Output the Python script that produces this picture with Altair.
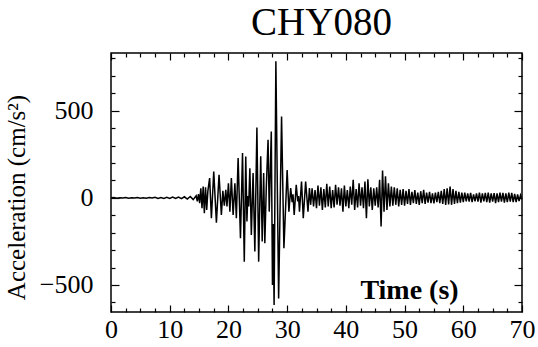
import altair as alt
import pandas as pd

SERIF = "Liberation Serif"
STATION = "CHY080"

# ---- record: acceleration (cm/s^2) versus time (s) ----
# Pre-event noise, sampled every PRE_DT seconds from 0 s
PRE_DT = 0.5
pre_acc = [0, 2, -2, 1, -1, 2, -2, 1, -1, 2,
           -2, 1, -2, 2, -1, 3, -3, 2, -3, 3,
           -3, 4, -4, 4, -5, 6, -7, 8, -10, 12]

# Strong-motion window: turning points of the trace
strong_t = [14.7, 14.9, 15.1, 15.3, 15.5, 15.7, 15.9, 16.1, 16.3, 16.5,
            16.8, 17.1, 17.5, 17.95, 18.4, 18.8, 19.05, 19.3, 19.55, 19.75,
            20.0, 20.25, 20.5, 20.8, 21.1, 21.35, 21.65, 22.05, 22.4, 22.7,
            22.95, 23.15, 23.3, 23.45, 23.65, 23.9, 24.2, 24.5, 24.85, 25.15,
            25.5, 25.75, 26.0, 26.2, 26.45, 26.75, 26.95, 27.3, 27.5, 27.62,
            27.78, 28.08, 28.55, 29.05, 29.45, 30.0, 30.3, 30.6, 30.85, 31.0,
            31.2, 31.55, 31.8, 31.95, 32.1, 32.45, 32.75, 33.15, 33.55, 33.8]
strong_acc = [-20, 22, -30, 55, -60, 65, -88, 60, -70, 40,
              113, -117, 151, -142, 132, -98, 40, -45, 46, -50,
              84, -79, 113, -98, 84, -117, 228, -232, 257, -366,
              237, -136, 10, -50, 170, -213, 142, -308, 404, -366,
              238, -251, 142, -260, 60, 333, -79, 381, -500, -150,
              -615, 783, -577, 467, -289, 160, -79, 56, -25, 20,
              -98, 75, -20, 10, -79, 94, -117, 94, -79, 56]

# Coda, sampled every CODA_DT seconds from CODA_T0
CODA_T0 = 34.0
CODA_DT = 0.25
coda_acc = [-40, 55, -50, 45,   -60, 70, -45, 60,   -69, 50, -55, 80,
            -50, 65, -60, 45,   -55, 75, -40, 60,   -45, 55, -79, 70,
            -50, 45, -60, 65,   -40, 103, -70, 50,  -55, 84, -45, 60,
            -60, 94, -117, 107, -50, 60, -70, 55,   -45, 60, -55, 103,
            -165, 157, -79, 123, -69, 84, -50, 65,  -45, 60, -40, 55,
            -50, 46, -40, 50,   -45, 40, -35, 50,   -40, 35, -30, 45,
            -35, 30, -40, 38,   -30, 46, -35, 30,   -28, 35, -30, 25,
            -32, 30, -25, 35,   -30, 40, -35, 50,   -40, 55, -38, 65,
            -40, 50, -35, 40,   -30, 35, -28, 30,   -25, 30, -20, 25,
            -22, 28, -25, 20,   -20, 25, -22, 30,   -28, 25, -20, 28,
            -25, 30, -28, 25,   -22, 27, -30, 25,   -25, 30, -22, 28,
            -28, 25, -25, 30,   -22, 28, -25, 22,   -25, 20, -18, 15,
            -10]

# ---- axes ----
X_DOMAIN = [0, 70]
Y_DOMAIN = [-655, 831]
x_label_values = [0, 10, 20, 30, 40, 50, 60, 70]
y_label_values = [-500, 0, 500]
x_tick_values = [0, 2.5, 5, 7.5, 10, 12.5, 15, 17.5, 20, 22.5, 25, 27.5,
                 30, 32.5, 35, 37.5, 40, 42.5, 45, 47.5, 50, 52.5, 55,
                 57.5, 60, 62.5, 65, 67.5, 70]
y_tick_values = [-600, -500, -400, -300, -200, -100, 0, 100, 200, 300,
                 400, 500, 600, 700, 800]

W, H = 411, 259

pre_t = [i * PRE_DT for i in range(len(pre_acc))]
coda_t = [CODA_T0 + i * CODA_DT for i in range(len(coda_acc))]
df = pd.DataFrame({
    "t": pre_t + strong_t + coda_t,
    "a": pre_acc + strong_acc + coda_acc,
})

xs = alt.Scale(domain=X_DOMAIN, nice=False, zero=False)
ys = alt.Scale(domain=Y_DOMAIN, nice=False, zero=False)

x_tick_size = {"condition": {"test": "datum.value % 10 === 0", "value": 7}, "value": 4}
y_tick_size = {"condition": {"test": "datum.value % 500 === 0", "value": 8}, "value": 4}

label_style = dict(labelFont=SERIF, labelFontSize=26, labelColor="black",
                   ticks=False, tickSize=0, domain=False, grid=False,
                   labelOverlap=False, labelFlush=False)
tick_style = dict(labels=False, domain=False, grid=False, ticks=True,
                  tickColor="black", tickWidth=1.2, title=None)

trace = alt.Chart(df).mark_line(color="black", strokeWidth=1.5, clip=True).encode(
    x=alt.X("t:Q", scale=xs, axis=alt.Axis(
        orient="bottom", values=x_label_values, labelPadding=4,
        title="Time (s)", titleFont=SERIF, titleFontSize=28,
        titleFontWeight="bold", titleColor="black", titleX=298, titleY=-14,
        titleBaseline="alphabetic", titleAlign="center", **label_style)),
    y=alt.Y("a:Q", scale=ys, axis=alt.Axis(
        orient="left", values=y_label_values, labelPadding=18,
        title="Acceleration (cm/s²)", titleFont=SERIF, titleFontSize=25,
        titleFontWeight="normal", titleColor="black", titlePadding=10,
        titleY=144, **label_style)),
)

# inward tick marks on the bottom and left edges
ticks_bl = alt.Chart(df).mark_point(opacity=0).encode(
    x=alt.X("t:Q", scale=xs, axis=alt.Axis(
        orient="top", offset=-H, values=x_tick_values, tickSize=x_tick_size, **tick_style)),
    y=alt.Y("a:Q", scale=ys, axis=alt.Axis(
        orient="right", offset=-W, values=y_tick_values, tickSize=y_tick_size, **tick_style)),
)

# inward tick marks on the top and right edges
ticks_tr = alt.Chart(df).mark_point(opacity=0).encode(
    x=alt.X("t:Q", scale=xs, axis=alt.Axis(
        orient="bottom", offset=-H, values=x_tick_values, tickSize=x_tick_size, **tick_style)),
    y=alt.Y("a:Q", scale=ys, axis=alt.Axis(
        orient="left", offset=-W, values=y_tick_values, tickSize=y_tick_size, **tick_style)),
)

# station name above the frame
heading = alt.Chart(pd.DataFrame({"name": [STATION]})).mark_text(
    font=SERIF, fontSize=39, color="black", align="center", baseline="alphabetic"
).encode(
    x=alt.value(W / 2 + 5),
    y=alt.value(-18),
    text="name:N",
)

chart = (
    alt.layer(trace, ticks_bl, ticks_tr, heading)
    .resolve_axis(x="independent", y="independent")
    .properties(
        width=W, height=H,
        autosize=alt.AutoSizeParams(type="none"),
        padding={"left": 111, "top": 53, "right": 16, "bottom": 35},
        background="white",
    )
    .configure_view(stroke="black", strokeWidth=1.5)
)

chart.save("out.html", embed_options={"renderer": "svg", "actions": False})
